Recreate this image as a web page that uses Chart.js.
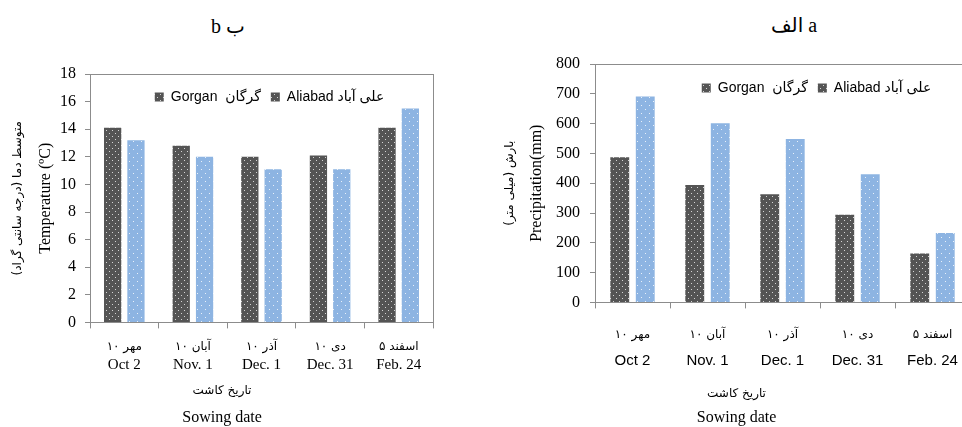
<!DOCTYPE html>
<html>
<head>
<meta charset="utf-8">
<script src="https://cdn.jsdelivr.net/npm/chart.js@4"></script>
<style>
  body { margin: 0; background: #fff; }
  #wrap { position: relative; width: 962px; height: 427px; overflow: hidden; }
  .hdr { position: absolute; width: 200px; text-align: center; font: 20px 'Liberation Serif', 'DejaVu Sans', serif; line-height: 24px; direction: ltr; unicode-bidi: isolate; }
  .pane { position: absolute; top: 0; height: 427px; overflow: hidden; }
</style>
</head>
<body>
<div id="wrap">
  <div class="hdr" style="left:128px; top:14px">b&#x200E; ب</div>
  <div class="hdr" style="left:694px; top:13px">&#x200E;الف a</div>
  <div class="pane" style="left:0; width:480px"><canvas id="tempChart" width="480" height="427"></canvas></div>
  <div class="pane" style="left:480px; width:482px"><canvas id="rainChart" width="500" height="427"></canvas></div>
</div>
<script>
const categoriesFa = ['۱۰ مهر', '۱۰ آبان', '۱۰ آذر', '۱۰ دی', '۵ اسفند'];
const categoriesEn = ['Oct 2', 'Nov. 1', 'Dec. 1', 'Dec. 31', 'Feb. 24'];
const seriesNames = ['Gorgan  گرگان', 'Aliabad علی آباد'];

// mean temperature (ºC)
const tempGorgan = [14.1, 12.8, 12.0, 12.1, 14.1];
const tempAliabad = [13.2, 12.0, 11.1, 11.1, 15.5];

// precipitation (mm)
const rainGorgan = [487, 394, 363, 294, 164];
const rainAliabad = [691, 601, 548, 430, 233];

const SERIF = "'Liberation Serif', 'DejaVu Sans', serif";
const SANS = "'Liberation Sans Narrow', 'Liberation Sans', 'DejaVu Sans', sans-serif";
const FA = "'DejaVu Sans', sans-serif";
const AXIS = '#8c8c8c';

function dots(base, step, dot) {
    const c = document.createElement('canvas');
    c.width = step; c.height = step;
    const g = c.getContext('2d');
    g.fillStyle = base;
    g.fillRect(0, 0, step, step);
    g.fillStyle = dot;
    g.fillRect(1, 1, 1, 1);
    g.fillRect(1 + step / 2, 1 + step / 2, 1, 1);
    return g.createPattern(c, 'repeat');
}
const darkFill = dots('#545454', 6, 'rgba(255,255,255,0.75)');
const lightFill = dots('#8db4e2', 8, 'rgba(255,255,255,0.8)');

// top and right edges of the plot box
const frame = {
    id: 'frame',
    afterDraw(chart, args, opts) {
        const {ctx, chartArea: a} = chart;
        ctx.save();
        ctx.strokeStyle = AXIS;
        ctx.lineWidth = 1;
        ctx.beginPath();
        ctx.moveTo(a.left, a.top + 0.5);
        ctx.lineTo(opts.toEdge ? chart.width : a.right, a.top + 0.5);
        if (!opts.toEdge) {
            ctx.moveTo(a.right + 0.5, a.top);
            ctx.lineTo(a.right + 0.5, a.bottom);
        }
        ctx.stroke();
        ctx.restore();
    }
};

// move the legend down into the plot box
const legendInside = {
    id: 'legendInside',
    afterLayout(chart, args, opts) {
        const lg = chart.legend;
        lg.left += opts.dx;
        lg.right += opts.dx;
        const dy = chart.chartArea.top + opts.dy - lg.top;
        lg.top += dy;
        lg.bottom += dy;
    }
};

function buildChart(id, gorgan, aliabad, cfg) {
    const ctx = document.getElementById(id).getContext('2d');
    return new Chart(ctx, {
        type: 'bar',
        data: {
            labels: categoriesFa,
            datasets: [
                { label: seriesNames[0], data: gorgan, backgroundColor: darkFill, borderWidth: 0 },
                { label: seriesNames[1], data: aliabad, backgroundColor: lightFill, borderWidth: 0 }
            ]
        },
        plugins: [frame, legendInside],
        options: {
            responsive: false,
            animation: false,
            categoryPercentage: 0.68,
            barPercentage: 0.74,
            layout: { padding: cfg.padding },
            plugins: {
                legend: {
                    position: 'top',
                    align: 'center',
                    fullSize: false,
                    labels: {
                        font: { family: SANS, size: 14 },
                        color: '#000',
                        boxWidth: 9,
                        boxHeight: 9,
                        padding: 10,
                        generateLabels: chart => chart.data.datasets.map((ds, i) => ({
                            text: ds.label,
                            fillStyle: darkFill,
                            strokeStyle: 'rgba(0,0,0,0)',
                            lineWidth: 0,
                            hidden: false,
                            datasetIndex: i
                        }))
                    }
                },
                tooltip: { enabled: false },
                subtitle: {
                    display: true,
                    position: 'bottom',
                    text: 'تاریخ کاشت',
                    color: '#000',
                    font: { family: FA, size: 12, weight: 'normal' },
                    padding: { top: cfg.subPad, bottom: 0 }
                },
                title: {
                    display: true,
                    position: 'bottom',
                    text: 'Sowing date',
                    color: '#000',
                    font: { family: SERIF, size: 16, weight: 'normal' },
                    padding: { top: cfg.titlePad, bottom: 0 }
                },
                frame: { toEdge: cfg.toEdge },
                legendInside: { dx: cfg.legendDx, dy: cfg.legendDy }
            },
            scales: {
                x: {
                    grid: { display: true, drawOnChartArea: false, drawTicks: true, tickLength: 6, color: AXIS, offset: true },
                    border: { color: AXIS },
                    ticks: { color: '#000', font: { family: FA, size: 12 }, padding: cfg.faPad, maxRotation: 0 },
                    afterFit: s => { s.height = cfg.xH; }
                },
                x2: {
                    type: 'category',
                    position: 'bottom',
                    labels: categoriesEn,
                    grid: { display: false, drawTicks: false },
                    border: { display: false },
                    ticks: { color: '#000', font: { family: cfg.enFont, size: cfg.enSize }, padding: 0, maxRotation: 0 },
                    afterFit: s => { s.height = cfg.x2H; }
                },
                y: {
                    min: 0,
                    max: cfg.yMax,
                    ticks: { stepSize: cfg.yStep, color: '#000', font: { family: SERIF, size: 16 }, padding: cfg.yPad },
                    grid: { display: true, drawOnChartArea: false, tickLength: 5, color: AXIS },
                    border: { color: AXIS },
                    title: { display: true, text: cfg.yTitle, color: '#000', font: { family: SERIF, size: 16 }, padding: 0 },
                    afterFit: s => { s.width = cfg.yW; }
                },
                y2: {
                    position: 'left',
                    min: 0,
                    max: 1,
                    ticks: { display: false },
                    grid: { display: false },
                    border: { display: false },
                    title: { display: true, text: cfg.yTitleFa, color: '#000', font: { family: FA, size: 12 }, padding: 0 },
                    afterFit: s => { s.width = cfg.y2W; }
                }
            }
        }
    });
}

buildChart('tempChart', tempGorgan, tempAliabad, {
    padding: { left: 11, right: 47, top: 40, bottom: 0 },
    legendDx: 8, legendDy: 6,
    subPad: 5, titlePad: 10,
    faPad: 11, xH: 34, x2H: 22,
    enFont: SERIF, enSize: 15,
    yMax: 18, yStep: 2, yPad: 9, yW: 54, y2W: 25,
    yTitle: 'Temperature (ºC)',
    yTitleFa: '\u200Fمتوسط دما (درجه سانتی گراد)\u200F',
    toEdge: false
});

buildChart('rainChart', rainGorgan, rainAliabad, {
    padding: { left: 23, right: 10, top: 30, bottom: 0 },
    legendDx: 34, legendDy: 7,
    subPad: 15, titlePad: 7,
    faPad: 19, xH: 49, x2H: 20,
    enFont: SANS, enSize: 15,
    yMax: 800, yStep: 100, yPad: 10, yW: 68, y2W: 24,
    yTitle: 'Precipitation(mm)',
    yTitleFa: '\u200Fبارش (میلی متر)\u200F',
    toEdge: true
});
</script>
</body>
</html>
